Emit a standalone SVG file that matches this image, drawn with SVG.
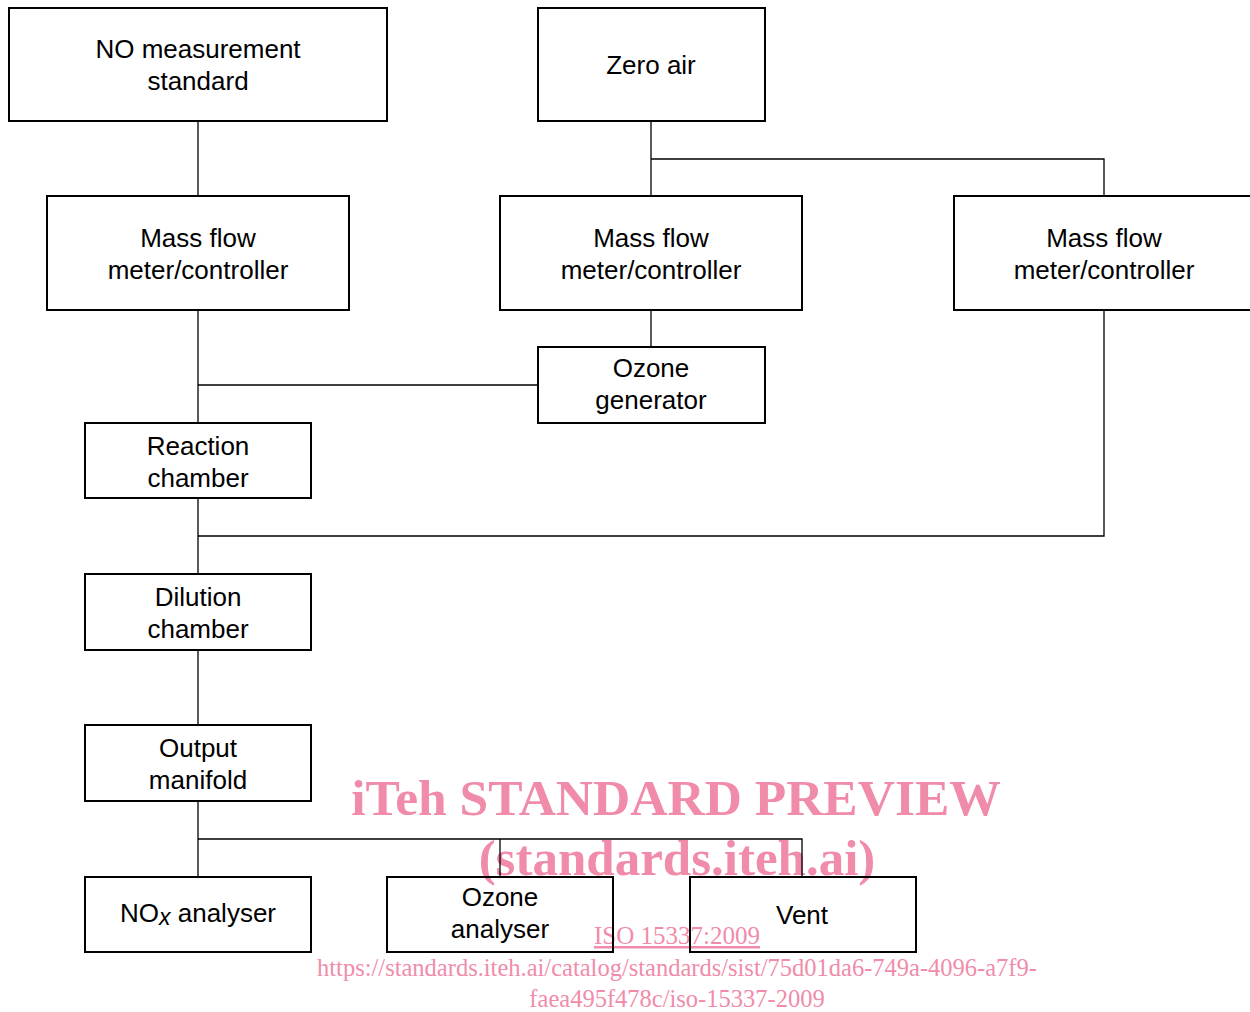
<svg xmlns="http://www.w3.org/2000/svg" width="1250" height="1012" viewBox="0 0 1250 1012">
<style>
.box{fill:none;stroke:#000;stroke-width:2}
.lbl{font-family:"Liberation Sans",Arial,sans-serif;font-size:26px;text-anchor:middle;fill:#000}
.con{fill:none;stroke:#000;stroke-width:1.3}
.wm{font-family:"Liberation Serif","Times New Roman",serif;fill:#F08CAA;text-anchor:middle}
</style>
<rect width="1250" height="1012" fill="#fff"/>
<g id="watermark">
<text class="wm" x="676" y="815" font-size="51.5" font-weight="bold">iTeh STANDARD PREVIEW</text>
<text class="wm" x="677" y="875" font-size="51" font-weight="bold">(standards.iteh.ai)</text>
<text class="wm" x="677" y="944" font-size="25" text-decoration="underline">ISO 15337:2009</text>
<text class="wm" x="677" y="976" font-size="24.5">https://standards.iteh.ai/catalog/standards/sist/75d01da6-749a-4096-a7f9-</text>
<text class="wm" x="677" y="1007" font-size="24.5">faea495f478c/iso-15337-2009</text>
</g>
<g id="connectors">
<polyline class="con" points="198,121 198,196"/>
<polyline class="con" points="198,310 198,423"/>
<polyline class="con" points="198,385 538,385"/>
<polyline class="con" points="651,121 651,196"/>
<polyline class="con" points="651,159 1104,159 1104,196"/>
<polyline class="con" points="651,310 651,347"/>
<polyline class="con" points="198,498 198,574"/>
<polyline class="con" points="198,536 1104,536 1104,310"/>
<polyline class="con" points="198,650 198,725"/>
<polyline class="con" points="198,801 198,877"/>
<polyline class="con" points="198,839 802,839 802,877"/>
<polyline class="con" points="500,839 500,877"/>
</g>
<g id="no-standard"><rect class="box" x="9" y="8" width="378" height="113"/><text class="lbl" x="198" y="58">NO measurement</text><text class="lbl" x="198" y="90">standard</text></g>
<g id="zero-air"><rect class="box" x="538" y="8" width="227" height="113"/><text class="lbl" x="651" y="74">Zero air</text></g>
<g id="mfc1"><rect class="box" x="47" y="196" width="302" height="114"/><text class="lbl" x="198" y="247">Mass flow</text><text class="lbl" x="198" y="279">meter/controller</text></g>
<g id="mfc2"><rect class="box" x="500" y="196" width="302" height="114"/><text class="lbl" x="651" y="247">Mass flow</text><text class="lbl" x="651" y="279">meter/controller</text></g>
<g id="mfc3"><rect class="box" x="954" y="196" width="302" height="114"/><text class="lbl" x="1104" y="247">Mass flow</text><text class="lbl" x="1104" y="279">meter/controller</text></g>
<g id="ozone-generator"><rect class="box" x="538" y="347" width="227" height="76"/><text class="lbl" x="651" y="377">Ozone</text><text class="lbl" x="651" y="409">generator</text></g>
<g id="reaction-chamber"><rect class="box" x="85" y="423" width="226" height="75"/><text class="lbl" x="198" y="455">Reaction</text><text class="lbl" x="198" y="487">chamber</text></g>
<g id="dilution-chamber"><rect class="box" x="85" y="574" width="226" height="76"/><text class="lbl" x="198" y="606">Dilution</text><text class="lbl" x="198" y="638">chamber</text></g>
<g id="output-manifold"><rect class="box" x="85" y="725" width="226" height="76"/><text class="lbl" x="198" y="757">Output</text><text class="lbl" x="198" y="789">manifold</text></g>
<g id="nox-analyser"><rect class="box" x="85" y="877" width="226" height="75"/><text class="lbl" x="198" y="922">NO<tspan font-style="italic" font-size="23" dy="3">x</tspan><tspan dy="-3"> analyser</tspan></text></g>
<g id="ozone-analyser"><rect class="box" x="387" y="877" width="226" height="75"/><text class="lbl" x="500" y="906">Ozone</text><text class="lbl" x="500" y="938">analyser</text></g>
<g id="vent"><rect class="box" x="690" y="877" width="226" height="75"/><text class="lbl" x="802" y="924">Vent</text></g>
</svg>
